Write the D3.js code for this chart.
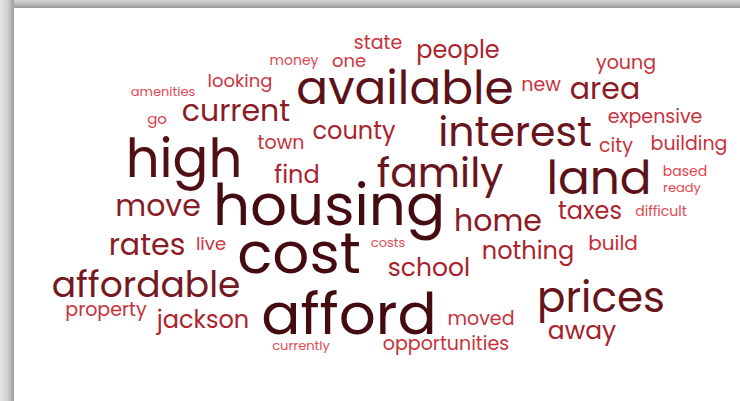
<!DOCTYPE html>
<html>
<head>
<meta charset="utf-8">
<script src="https://cdn.jsdelivr.net/npm/d3@7"></script>
<style>
  html, body { margin: 0; padding: 0; background: #ffffff; }
  svg { display: block; }
</style>
</head>
<body>
<svg id="word-cloud"></svg>
<script>
const width = 740, height = 401

// words and how often they were mentioned
const words = ["housing", "cost", "high", "afford", "land", "available", "interest", "family",
    "prices", "affordable", "area", "current", "home", "move", "rates", "nothing", "jackson",
    "away", "people", "county", "school", "taxes", "find", "build", "one", "young", "looking",
    "expensive", "building", "town", "city", "moved", "opportunities", "state", "property",
    "live", "new", "go", "amenities", "money", "based", "difficult", "currently", "ready", "costs"]
const counts = [48, 48, 43, 48, 37, 37, 31, 31,
    32, 26, 20, 20, 20, 20, 20, 14, 14,
    15, 14, 14, 15, 14, 14, 10, 8, 9, 8,
    9, 9, 9, 9, 9, 9, 9, 9,
    8, 9, 5, 3, 4, 4, 4, 3, 3, 3]

// cloud layout result (offsets from the cloud centre, like d3-cloud output)
const layoutX = [-41, -71, -186, -21, 229, 35, 145, 70,
    231, -224, 235, -134, 128, -212, -223, 158, -167,
    212, 88, -16, 59, 220, -73, 243, -21, 256, -130,
    285, 319, -89, 246, 111, 76, 8, -264,
    -159, 171, -213, -207, -76, 315, 291, -69, 312, 18]
const layoutY = [25, 73, -23, 134, -6, -96, -54, -13,
    112, 97, -101, -79, 31, 16, 55, 59, 128,
    139, -142, -61, 76, 19, -17, 50, -133, -131, -113,
    -77, -50, -51, -48, 125, 150, -151, 116,
    50, -109, -76, -104, -135, -24, 16, 150, -8, 47]

const data = words.map((w, i) => ({ text: w, count: counts[i], x: layoutX[i], y: layoutY[i] }))

const svg = d3.select("svg#word-cloud")
    .attr("viewBox", [0, 0, width, height])
    .attr("width", width)
    .attr("height", height)

const defs = svg.append("defs")

const leftGrad = defs.append("linearGradient").attr("id", "shadow-left")
    .attr("x1", 0).attr("x2", 1).attr("y1", 0).attr("y2", 0)
leftGrad.append("stop").attr("offset", "0%").attr("stop-color", "#e4e4e4")
leftGrad.append("stop").attr("offset", "55%").attr("stop-color", "#cfcfcf")
leftGrad.append("stop").attr("offset", "100%").attr("stop-color", "#9c9c9c")

const topGrad = defs.append("linearGradient").attr("id", "shadow-top")
    .attr("x1", 0).attr("x2", 0).attr("y1", 0).attr("y2", 1)
topGrad.append("stop").attr("offset", "0%").attr("stop-color", "#d6d6d6")
topGrad.append("stop").attr("offset", "50%").attr("stop-color", "#bdbdbd")
topGrad.append("stop").attr("offset", "100%").attr("stop-color", "#979797")

// card shadow along the top and left edges
svg.append("rect")
    .attr("x", 0).attr("y", 0)
    .attr("width", width).attr("height", 8)
    .attr("fill", "url(#shadow-top)")

svg.append("rect")
    .attr("x", 0).attr("y", 0)
    .attr("width", 14).attr("height", height)
    .attr("fill", "url(#shadow-left)")

const xScale = d3.scaleLinear()
    .domain([-370, 370])
    .range([0, 740])

const yScale = d3.scaleLinear()
    .domain([-200, 201])
    .range([0, 401])

const sizeScale = d3.scaleLinear()
    .domain([3, 48])
    .range([13, 58])

const colorScale = d3.scaleLinear()
    .domain([3, 12, 22, 48])
    .range(["#e24a53", "#b8262f", "#7d1a24", "#440c10"])

svg.append("g").attr("class", "cloud")
    .selectAll("text.word")
    .data(data)
    .join("text").attr("class", "word")
    .attr("x", d => xScale(d.x))
    .attr("y", d => yScale(d.y))
    .attr("text-anchor", "middle")
    .attr("font-family", "Poppins, Inter, sans-serif")
    .attr("font-size", d => sizeScale(d.count))
    .attr("fill", d => colorScale(d.count))
    .text(d => d.text)
</script>
</body>
</html>
